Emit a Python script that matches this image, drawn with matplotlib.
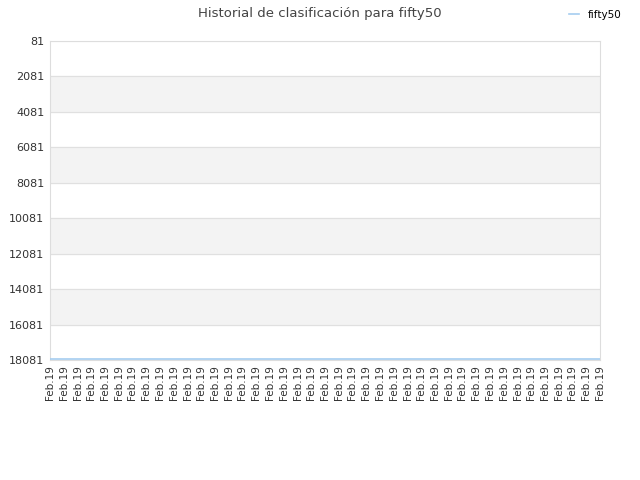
import numpy as np
import matplotlib
matplotlib.use('Agg')
import matplotlib.pyplot as plt

# fechas (todas Feb.19) y posiciones de ranking
fechas = ['Feb.19'] * 41
ranking = [18024] * 41
ticks_y = [81, 2081, 4081, 6081, 8081, 10081, 12081, 14081, 16081, 18081]

fig = plt.figure(figsize=(6.4, 4.8), dpi=100)
ax = fig.add_axes([50/640, 1 - 360/480, 550/640, 319/480])

# bandas alternas
for i in range(len(ticks_y) - 1):
    if i % 2 == 1:
        ax.axhspan(ticks_y[i], ticks_y[i + 1], color='#f3f3f3', zorder=0)
for t in ticks_y:
    ax.axhline(t, color='#e0e0e0', lw=0.8, zorder=1)

x = np.arange(len(fechas))
ax.plot(x, ranking, color='#a5cdf0', lw=1.2, label='fifty50', zorder=3)

ax.set_xlim(0, len(fechas) - 1)
ax.set_ylim(18081, 81)
ax.set_yticks(ticks_y)
ax.set_yticklabels([str(t) for t in ticks_y], fontsize=8, color='#333333')
ax.set_xticks(x)
ax.set_xticklabels(fechas, rotation=90, fontsize=7.5, color='#333333')
ax.tick_params(length=0, pad=4)

for s in ax.spines.values():
    s.set_color('#dddddd')

fig.text(0.5, 1 - 13/480, 'Historial de clasificación para fifty50',
         ha='center', va='center', fontsize=9.5, color='#444444')
fig.legend(loc='center', bbox_to_anchor=(595/640, 1 - 15/480), frameon=False,
           fontsize=7.5, handlelength=1.0, handletextpad=0.8)

fig.savefig('out.png', dpi=100)
